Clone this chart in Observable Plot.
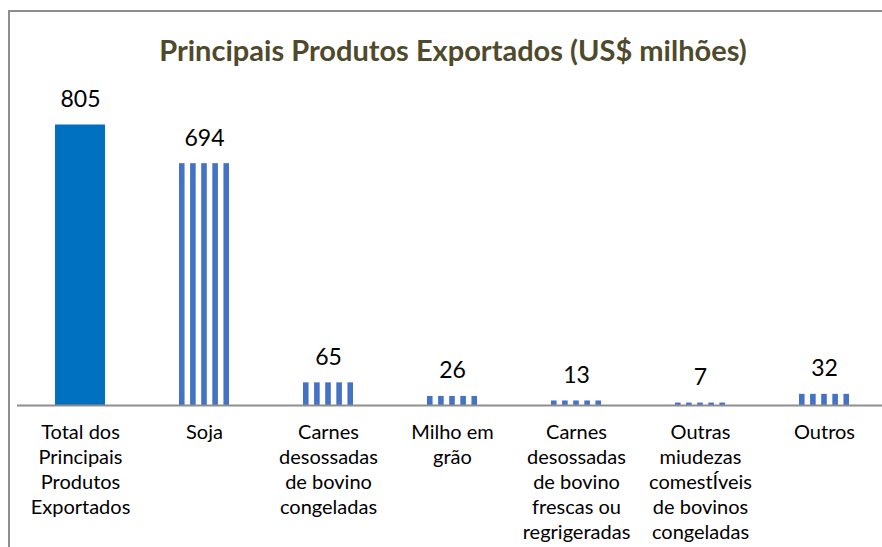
<!DOCTYPE html>
<html><head><meta charset="utf-8">
<script src="https://cdn.jsdelivr.net/npm/d3@7"></script>
<script src="https://cdn.jsdelivr.net/npm/@observablehq/plot@0.6"></script>
<style>
body{margin:0;background:#fff;overflow:hidden;width:882px;height:547px;position:relative;font-family:Lato,sans-serif}
#frame{position:absolute;left:8px;top:10px;width:1000px;height:1000px;border-left:2px solid #8e8e8e;border-top:2px solid #8e8e8e}
#title{position:absolute;left:9px;width:888px;top:34px;text-align:center;font:bold 29px Lato,sans-serif;color:#4F4A2C;line-height:32px;white-space:nowrap}
#chart{position:absolute;left:0;top:81px}
</style></head><body>
<div id="frame"></div>
<div id="title">Principais Produtos Exportados (US$ milhões)</div>
<div id="chart"></div>
<script>
const categories = [
  "Total dos Principais Produtos Exportados",
  "Soja",
  "Carnes desossadas de bovino congeladas",
  "Milho em grão",
  "Carnes desossadas de bovino frescas ou regrigeradas",
  "Outras miudezas comestÍveis de bovinos congeladas",
  "Outros"
];
const values = [805, 694, 65, 26, 13, 7, 32];
const tickLabels = [
  "Total dos\nPrincipais\nProdutos\nExportados",
  "Soja",
  "Carnes\ndesossadas\nde bovino\ncongeladas",
  "Milho em\ngrão",
  "Carnes\ndesossadas\nde bovino\nfrescas ou\nregrigeradas",
  "Outras\nmiudezas\ncomestÍveis\nde bovinos\ncongeladas",
  "Outros"
];
const data = categories.map((c, i) => ({category: c, value: values[i], total: i === 0}));

const plot = Plot.plot({
  width: 882, height: 466,
  marginLeft: 17, marginRight: 0, marginTop: 43.5, marginBottom: 142,
  style: {fontFamily: "Lato, sans-serif", background: "transparent", overflow: "visible", color: "#000"},
  x: {domain: categories, range: [17, 886], paddingInner: 0.6, paddingOuter: 0.3},
  y: {domain: [0, 805], axis: null},
  marks: [
    Plot.barY(data.filter(d => d.total), {x: "category", y: "value", fill: "#0070C0"}),
    Plot.barY(data.filter(d => !d.total), {x: "category", y: "value", fill: "url(#stripes)"}),
    Plot.ruleY([0], {stroke: "#8e8e8e", strokeWidth: 2}),
    Plot.text(data, {x: "category", y: "value", text: d => String(d.value), dy: -18, lineAnchor: "bottom", fontSize: 23, fill: "#000"}),
    Plot.axisX({tickSize: 0, tickPadding: 16, tickFormat: c => tickLabels[categories.indexOf(c)], fontSize: 20, lineHeight: 1.25, lineAnchor: "top", label: null, color: "#000"})
  ]
});
const ns = "http://www.w3.org/2000/svg";
const defs = document.createElementNS(ns, "defs");
defs.innerHTML = '<pattern id="stripes" patternUnits="objectBoundingBox" width="0.22222" height="1" patternContentUnits="objectBoundingBox"><rect x="0" y="0" width="0.11111" height="1" fill="#4472C4"/></pattern>';
plot.prepend(defs);
document.getElementById("chart").appendChild(plot);
</script>
</body></html>
